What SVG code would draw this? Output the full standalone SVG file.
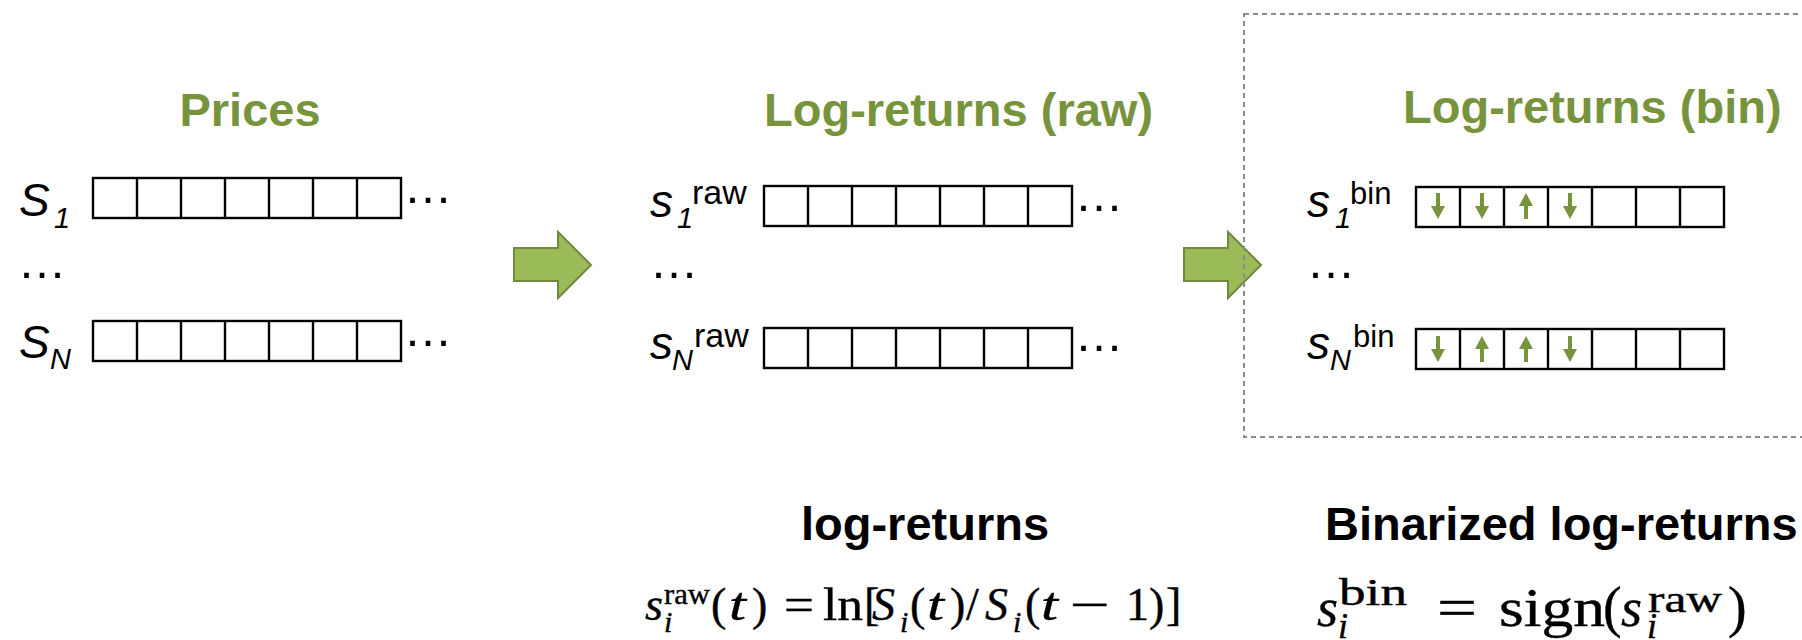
<svg xmlns="http://www.w3.org/2000/svg" xmlns:xlink="http://www.w3.org/1999/xlink" width="1802" height="640" viewBox="0 0 1802 640">
  <style>
    .title { font-family: "Liberation Sans", Arial, sans-serif; font-weight: bold; font-size: 47px; fill: #77933C; }
    .caption { font-family: "Liberation Sans", Arial, sans-serif; font-weight: bold; font-size: 47px; fill: #000; }
    .lbl { font-family: "Liberation Sans", Arial, sans-serif; font-style: italic; font-size: 46px; fill: #000; }
    .sub { font-family: "Liberation Sans", Arial, sans-serif; font-style: italic; font-size: 29px; fill: #000; }
    .sup { font-family: "Liberation Sans", Arial, sans-serif; font-size: 31px; fill: #000; }
    .sup-raw { font-size: 34px; }
    .dots { font-family: "Liberation Sans", Arial, sans-serif; font-size: 49px; fill: #000; }
    .cell { fill: #fff; stroke: #000; stroke-width: 2.4; }
    .div { stroke: #000; stroke-width: 2.4; }
    .math { font-family: "Liberation Serif", "Times New Roman", serif; fill: #000; stroke: #000; stroke-width: 0.4; }
    .it { font-style: italic; }
    .bigarrow { fill: #9BBB59; stroke: #71893F; stroke-width: 2; stroke-linejoin: miter; }
    .tick { fill: #77933C; }
    .frame { fill: none; stroke: #8C8C8C; stroke-width: 2; stroke-dasharray: 5 4; }
  </style>
  <defs>
    <!-- a strip of seven time-step cells, 44 px each -->
    <g id="strip">
      <rect class="cell" x="0" y="0" width="308" height="40"/>
      <path class="div" d="M44 0V40M88 0V40M132 0V40M176 0V40M220 0V40M264 0V40"/>
    </g>
    <!-- sign markers, centred on (0,0) -->
    <g id="down" class="tick">
      <rect x="-2" y="-13" width="4" height="14"/>
      <polygon points="-7,0 7,0 0,13"/>
    </g>
    <g id="up" class="tick">
      <polygon points="-7,0 7,0 0,-13"/>
      <rect x="-2" y="-1" width="4" height="14"/>
    </g>
  </defs>

  <rect width="1802" height="640" fill="#fff"/>

  <!-- Prices -->
  <g id="prices">
    <text class="title" x="250" y="126" text-anchor="middle">Prices</text>
    <text class="lbl" x="19" y="216">S</text>
    <text class="sub" x="54" y="228">1</text>
    <use xlink:href="#strip" x="93" y="178"/>
    <text class="dots" x="403.5" y="203">…</text>
    <text class="dots" x="17.5" y="278">…</text>
    <text class="lbl" x="19" y="358">S</text>
    <text class="sub" x="50" y="369">N</text>
    <use xlink:href="#strip" x="93" y="321"/>
    <text class="dots" x="403.5" y="346">…</text>
  </g>

  <!-- Raw log-returns -->
  <g id="raw">
    <text class="title" x="764" y="126">Log-returns (raw)</text>
    <text class="lbl" x="650" y="217">s</text>
    <text class="sub" x="677" y="228">1</text>
    <text class="sup sup-raw" x="692" y="204">raw</text>
    <use xlink:href="#strip" x="764" y="186"/>
    <text class="dots" x="1074.5" y="211">…</text>
    <text class="dots" x="649.5" y="278">…</text>
    <text class="lbl" x="650" y="359">s</text>
    <text class="sub" x="672" y="370">N</text>
    <text class="sup sup-raw" x="694" y="347">raw</text>
    <use xlink:href="#strip" x="764" y="328"/>
    <text class="dots" x="1074.5" y="351">…</text>
  </g>

  <!-- Binarized log-returns -->
  <g id="bin">
    <text class="title" x="1403" y="123">Log-returns (bin)</text>
    <text class="lbl" x="1307" y="217">s</text>
    <text class="sub" x="1335" y="228">1</text>
    <text class="sup" x="1350" y="204">bin</text>
    <use xlink:href="#strip" x="1416" y="187"/>
    <use xlink:href="#down" x="1438" y="206"/>
    <use xlink:href="#down" x="1482" y="206"/>
    <use xlink:href="#up" x="1526" y="206"/>
    <use xlink:href="#down" x="1570" y="206"/>
    <text class="dots" x="1306.5" y="278">…</text>
    <text class="lbl" x="1307" y="359">s</text>
    <text class="sub" x="1330" y="370">N</text>
    <text class="sup" x="1353" y="347">bin</text>
    <use xlink:href="#strip" x="1416" y="329"/>
    <use xlink:href="#down" x="1438" y="349"/>
    <use xlink:href="#up" x="1482" y="349"/>
    <use xlink:href="#up" x="1526" y="349"/>
    <use xlink:href="#down" x="1570" y="349"/>
  </g>

  <!-- transformation arrows -->
  <g id="connectors">
    <polygon class="bigarrow" points="514,248 558,248 558,232 591,265 558,298 558,281 514,281"/>
    <polygon class="bigarrow" points="1184,248 1228,248 1228,232 1261,265 1228,298 1228,281 1184,281"/>
  </g>

  <!-- frame round the binarized block -->
  <g id="bin-frame">
    <rect class="frame" x="1244" y="14" width="600" height="423"/>
  </g>

  <!-- definitions -->
  <g id="def-raw">
    <text class="caption" x="925" y="540" text-anchor="middle">log-returns</text>
    <g class="math" font-size="46">
      <text class="it" x="645" y="620">s</text>
      <text x="664" y="604" font-size="30" textLength="46" lengthAdjust="spacingAndGlyphs">raw</text>
      <text class="it" x="664" y="632" font-size="30">i</text>
      <text x="711" y="620">(</text>
      <text class="it" x="729" y="620" textLength="17" lengthAdjust="spacingAndGlyphs">t</text>
      <text x="752" y="620">)</text>
      <text x="784" y="620" textLength="30" lengthAdjust="spacingAndGlyphs">=</text>
      <text x="823" y="620" textLength="40" lengthAdjust="spacingAndGlyphs">ln</text>
      <text x="864" y="620">[</text>
      <text class="it" x="872" y="620">S</text>
      <text class="it" x="900" y="632" font-size="30">i</text>
      <text x="910" y="620">(</text>
      <text class="it" x="927" y="620" textLength="17" lengthAdjust="spacingAndGlyphs">t</text>
      <text x="950" y="620">)</text>
      <text x="966" y="620">/</text>
      <text class="it" x="985" y="620">S</text>
      <text class="it" x="1013" y="632" font-size="30">i</text>
      <text x="1025" y="620">(</text>
      <text class="it" x="1041" y="620" textLength="17" lengthAdjust="spacingAndGlyphs">t</text>
      <text x="1070" y="620" textLength="40" lengthAdjust="spacingAndGlyphs">−</text>
      <text x="1126" y="620">1</text>
      <text x="1149" y="620">)</text>
      <text x="1166" y="620">]</text>
    </g>
  </g>

  <g id="def-bin">
    <text class="caption" x="1325" y="540">Binarized log-returns</text>
    <g class="math" font-size="54">
      <text class="it" x="1317" y="626">s</text>
      <text x="1339" y="605" font-size="38" textLength="68" lengthAdjust="spacingAndGlyphs">bin</text>
      <text class="it" x="1338" y="638" font-size="36">i</text>
      <text x="1437" y="626" textLength="40" lengthAdjust="spacingAndGlyphs">=</text>
      <text x="1499" y="626" textLength="106" lengthAdjust="spacingAndGlyphs">sign</text>
      <text x="1603" y="626" font-size="56">(</text>
      <text class="it" x="1621" y="626">s</text>
      <text class="it" x="1647" y="638" font-size="36">i</text>
      <text x="1648" y="612" font-size="38" textLength="74" lengthAdjust="spacingAndGlyphs">raw</text>
      <text x="1728" y="626" font-size="56">)</text>
    </g>
  </g>
</svg>
